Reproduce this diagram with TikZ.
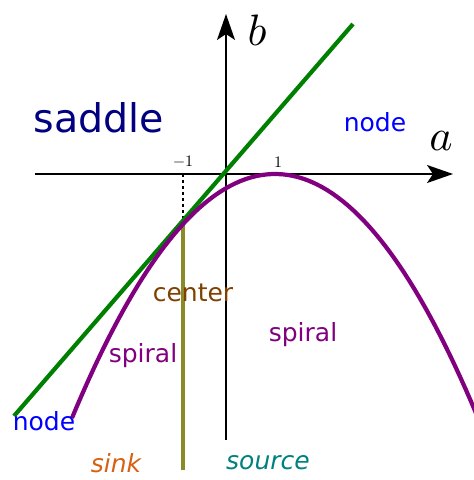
\documentclass[tikz,border=0pt]{standalone}
\usepackage{fontspec}
\setmainfont{DejaVu Sans}
\usetikzlibrary{arrows.meta}

\definecolor{curvegreen}{RGB}{0,128,0}
\definecolor{curvepurple}{RGB}{128,0,128}
\definecolor{lineolive}{RGB}{138,138,40}
\definecolor{saddlenavy}{RGB}{0,0,128}
\definecolor{centerbrown}{RGB}{128,64,0}
\definecolor{sinkorange}{RGB}{216,96,16}
\definecolor{sourceteal}{RGB}{0,128,128}

\newcommand{\axisname}[1]{\scalebox{4.4}{$#1$}}
\newcommand{\tickname}[1]{\scalebox{1.6}{$#1$}}

\tikzset{
  axisline/.style={line width=1.8, -{Stealth[length=26pt,width=18pt,inset=6pt]}},
  regionlabel/.style={inner sep=0.75pt, font=\fontsize{25}{29}\selectfont},
  ticklabel/.style={inner sep=0.75pt},
  axislabel/.style={inner sep=0.75pt}
}

\begin{document}
\begin{tikzpicture}[x=1pt,y=1pt,yscale=-1]
\useasboundingbox (0,0) rectangle (474,480);

%Coordinates
\coordinate (aStart) at (35,174);
\coordinate (aEnd) at (453,174);
\coordinate (bStart) at (226,440);
\coordinate (bEnd) at (226,14);
\coordinate (greenLow) at (14,416);
\coordinate (greenHigh) at (353,24);
\coordinate (tickMinus) at (183,174);
\coordinate (touch) at (183,225);
\coordinate (oliveEnd) at (183,470);

%Axes
\draw [axisline] (aStart) -- (aEnd) ;
\draw [axisline] (bStart) -- (bEnd) ;
%Dotted drop
\draw [line width=1.5, dash pattern=on 3pt off 3pt] (tickMinus) -- (touch) ;
%Olive line
\draw [color=lineolive, line width=4.2] (touch) -- (oliveEnd) ;
%Green line
\draw [color=curvegreen, line width=4.2] (greenLow) -- (greenHigh) ;
%Parabola
\draw [color=curvepurple, line width=4.2, domain=72:476, samples=80]
  plot (\x, {174+0.00592*(\x-275)*(\x-275)}) ;

% Text Node
\node [axislabel] (labA) at (441,141) {\axisname{a}};
% Text Node
\node [axislabel] (labB) at (257,30) {\axisname{b}};
% Text Node
\node [ticklabel] (tickM) at (183,162) {\tickname{-1}};
% Text Node
\node [ticklabel] (tickP) at (278,162) {\tickname{1}};
% Text Node
\node [inner sep=0.75pt, font=\fontsize{39.5}{44}\selectfont, text=saddlenavy] (saddle) at (99,118) {saddle};
% Text Node
\node [regionlabel, text=blue] (nodeR) at (375,122) {node};
% Text Node
\node [regionlabel, text=blue] (nodeL) at (44,421) {node};
% Text Node
\node [regionlabel, text=centerbrown] (center) at (193,293) {center};
% Text Node
\node [regionlabel, text=curvepurple] (spiralR) at (303,335) {spiral};
% Text Node
\node [regionlabel, text=curvepurple] (spiralL) at (143,356) {spiral};
% Text Node
\node [regionlabel, text=sinkorange, font=\fontsize{25}{29}\selectfont\itshape] (sink) at (116,463) {sink};
% Text Node
\node [regionlabel, text=sourceteal, font=\fontsize{25}{29}\selectfont\itshape] (source) at (268,463) {source};

\end{tikzpicture}
\end{document}
